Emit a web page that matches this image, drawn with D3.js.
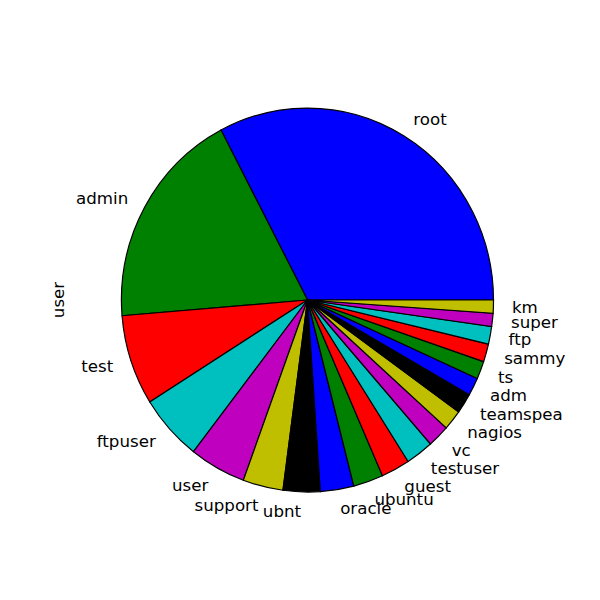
<!DOCTYPE html>
<html>
<head>
<meta charset="utf-8">
<script src="https://cdn.jsdelivr.net/npm/d3@7"></script>
<style>
  body { margin: 0; background: #fff; }
  text { font-family: "DejaVu Sans", sans-serif; font-size: 16.67px; fill: #000; }
</style>
</head>
<body>
<div class="chart"></div>
<script>
const WIDTH = 600;
const HEIGHT = 600;

// value_counts of the "user" column, largest first
const names = ['root', 'admin', 'test', 'ftpuser', 'user', 'support', 'ubnt', 'oracle',
  'ubuntu', 'guest', 'testuser', 'vc', 'nagios', 'teamspea', 'adm', 'ts', 'sammy',
  'ftp', 'super', 'km'];
const counts = [327, 186, 76, 56, 49, 35, 32, 29, 26, 25, 24, 19, 17, 17, 15, 15, 15,
  15, 11, 11];
const seriesName = 'user';

// old matplotlib colour cycle
const colors = ['#0000ff', '#008000', '#ff0000', '#00bfbf', '#bf00bf', '#bfbf00', '#000000'];

const data = names.map((name, i) => ({name: name, value: counts[i]}));

const svg = d3.select('.chart')
    .append('svg')
    .attr('width', WIDTH)
    .attr('height', HEIGHT);

// axes box of the default subplot, pie limits at +-1.25
const x = d3.scaleLinear().domain([-1.25, 1.25]).range([75, 540]);
const y = d3.scaleLinear().domain([-1.25, 1.25]).range([540, 60]);
const rx = x(1) - x(0);
const ry = y(-1) - y(0);

// start at 3 o'clock and go counter-clockwise
const pie = d3.pie()
    .sort(null)
    .value((d) => d.value)
    .startAngle(Math.PI / 2)
    .endAngle(Math.PI / 2 - 2 * Math.PI);

const arcs = pie(data);
const arc = d3.arc().innerRadius(0).outerRadius(1);

svg.append('g')
    .attr('transform', `translate(${x(0)},${y(0)}) scale(${rx},${ry})`)
    .selectAll('path')
    .data(arcs)
    .enter()
    .append('path')
    .attr('d', arc)
    .style('fill', (d, i) => colors[i % colors.length])
    .style('stroke', '#000')
    .style('stroke-width', 1.2)
    .attr('vector-effect', 'non-scaling-stroke');

svg.append('g')
    .selectAll('text')
    .data(arcs)
    .enter()
    .append('text')
    .attr('x', (d) => x(1.1 * Math.sin((d.startAngle + d.endAngle) / 2)))
    .attr('y', (d) => y(1.1 * Math.cos((d.startAngle + d.endAngle) / 2)))
    .attr('dy', '0.35em')
    .attr('text-anchor', (d) => Math.sin((d.startAngle + d.endAngle) / 2) > 0 ? 'start' : 'end')
    .text((d) => d.data.name);

svg.append('text')
    .attr('transform', `translate(64,${y(0)}) rotate(-90)`)
    .attr('text-anchor', 'middle')
    .text(seriesName);
</script>
</body>
</html>
